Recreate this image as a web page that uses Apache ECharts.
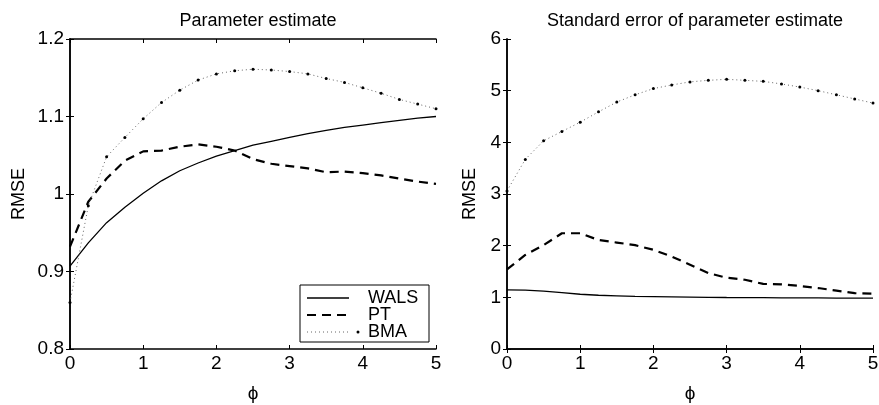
<!DOCTYPE html>
<html>
<head>
<meta charset="utf-8">
<script src="https://cdn.jsdelivr.net/npm/echarts@6/dist/echarts.min.js"></script>
<style>
  html, body { margin: 0; padding: 0; background: #fff; }
  #chart { width: 879px; height: 405px; }
</style>
</head>
<body>
<div id="chart"></div>
<script>
// phi values shared by every curve
const phi = [0, 0.25, 0.5, 0.75, 1, 1.25, 1.5, 1.75, 2, 2.25, 2.5, 2.75, 3, 3.25, 3.5, 3.75, 4, 4.25, 4.5, 4.75, 5]

// left panel: parameter estimate
const walsEst = [0.907, 0.937, 0.963, 0.983, 1.001, 1.017, 1.030, 1.040, 1.049, 1.056, 1.063, 1.068, 1.073, 1.078, 1.082, 1.086, 1.089, 1.092, 1.095, 1.098, 1.100]
const ptEst = [0.932, 0.990, 1.020, 1.043, 1.055, 1.056, 1.061, 1.064, 1.061, 1.056, 1.045, 1.039, 1.036, 1.033, 1.028, 1.029, 1.027, 1.024, 1.020, 1.016, 1.013]
const bmaEst = [0.860, 0.985, 1.048, 1.073, 1.097, 1.118, 1.134, 1.147, 1.155, 1.159, 1.161, 1.160, 1.158, 1.155, 1.149, 1.144, 1.137, 1.130, 1.122, 1.116, 1.110]

// right panel: standard error of parameter estimate
const walsSe = [1.145, 1.14, 1.12, 1.09, 1.06, 1.04, 1.03, 1.02, 1.015, 1.01, 1.005, 1.0, 0.997, 0.995, 0.993, 0.991, 0.99, 0.988, 0.986, 0.985, 0.984]
const ptSe = [1.54, 1.82, 2.01, 2.24, 2.24, 2.11, 2.06, 2.01, 1.92, 1.79, 1.63, 1.47, 1.38, 1.34, 1.26, 1.25, 1.22, 1.18, 1.13, 1.08, 1.07]
const bmaSe = [3.06, 3.67, 4.03, 4.21, 4.39, 4.59, 4.78, 4.92, 5.04, 5.11, 5.17, 5.20, 5.22, 5.20, 5.18, 5.13, 5.07, 5.00, 4.92, 4.84, 4.76]

const titles = ['Parameter estimate', 'Standard error of parameter estimate']
const yRanges = [[0.8, 1.2, 0.1], [0, 6, 1]]
const legendNames = ['WALS', 'PT', 'BMA']

const font = 'Liberation Sans, Arial, sans-serif'
const chart = echarts.init(document.getElementById('chart'))

function pairs(ys) {
  return phi.map((x, i) => [x, ys[i]])
}

const grids = [
  { left: 70, right: 443, top: 39, bottom: 56, outerBoundsMode: 'none' },
  { left: 507, right: 6, top: 39, bottom: 56, outerBoundsMode: 'none' },
]

const xAxes = []
const yAxes = []
grids.forEach((g, i) => {
  // bottom / left axes with labels
  xAxes.push({
    type: 'value', gridIndex: i, min: 0, max: 5, interval: 1,
    name: 'ϕ', nameLocation: 'middle', nameGap: 35,
    nameTextStyle: { fontFamily: font, fontSize: 19, color: '#000' },
    axisLine: { lineStyle: { color: '#000', width: 1.5 } },
    axisTick: { inside: true, length: 4, lineStyle: { color: '#000' } },
    axisLabel: { fontFamily: font, fontSize: 19, color: '#000', margin: 5 },
    splitLine: { show: false },
  })
  // top axis: box line + ticks only
  xAxes.push({
    type: 'value', gridIndex: i, min: 0, max: 5, interval: 1, position: 'top',
    axisLine: { lineStyle: { color: '#000', width: 1.5 } },
    axisTick: { inside: true, length: 4, lineStyle: { color: '#000' } },
    axisLabel: { show: false },
    splitLine: { show: false },
  })
  const r = yRanges[i]
  yAxes.push({
    type: 'value', gridIndex: i, min: r[0], max: r[1], interval: r[2],
    name: 'RMSE', nameLocation: 'middle', nameGap: i === 0 ? 42 : 28,
    nameTextStyle: { fontFamily: font, fontSize: 18, color: '#000' },
    axisLine: { show: true, lineStyle: { color: '#000', width: 1.5 } },
    axisTick: { show: true, inside: true, length: 4, lineStyle: { color: '#000' } },
    axisLabel: { fontFamily: font, fontSize: 19, color: '#000', margin: 6 },
    splitLine: { show: false },
  })
  yAxes.push({
    type: 'value', gridIndex: i, min: r[0], max: r[1], interval: r[2], position: 'right',
    axisLine: { show: true, lineStyle: { color: '#000', width: 1.5 } },
    axisTick: { show: true, inside: true, length: 4, lineStyle: { color: '#000' } },
    axisLabel: { show: false },
    splitLine: { show: false },
  })
})

function solid(name, data, idx) {
  return {
    name, type: 'line', data: pairs(data), xAxisIndex: idx * 2, yAxisIndex: idx * 2,
    showSymbol: false, symbol: 'none', silent: true,
    lineStyle: { color: '#000', width: 1.3 },
  }
}
function dashed(name, data, idx) {
  return {
    name, type: 'line', data: pairs(data), xAxisIndex: idx * 2, yAxisIndex: idx * 2,
    showSymbol: false, symbol: 'none', silent: true,
    lineStyle: { color: '#000', width: 2.2, type: [9, 6] },
  }
}
function dotted(name, data, idx) {
  return {
    name, type: 'line', data: pairs(data), xAxisIndex: idx * 2, yAxisIndex: idx * 2,
    symbol: 'circle', symbolSize: 3, silent: true,
    itemStyle: { color: '#000', borderWidth: 0 },
    lineStyle: { color: '#666', width: 1, type: [1, 3] },
  }
}

// legend box drawn in the lower right of the left panel
const lx = 300, ly = 285
const rowY = [13, 30, 47]
const legendGraphic = [
  { type: 'rect', shape: { x: lx, y: ly, width: 129, height: 57 },
    style: { fill: '#fff', stroke: '#000', lineWidth: 1 }, z: 100 },
  { type: 'line', shape: { x1: lx + 7, y1: ly + rowY[0], x2: lx + 49, y2: ly + rowY[0] },
    style: { stroke: '#000', lineWidth: 1.3 }, z: 101 },
  { type: 'line', shape: { x1: lx + 7, y1: ly + rowY[1], x2: lx + 49, y2: ly + rowY[1] },
    style: { stroke: '#000', lineWidth: 2.2, lineDash: [9, 6] }, z: 101 },
  { type: 'line', shape: { x1: lx + 7, y1: ly + rowY[2], x2: lx + 49, y2: ly + rowY[2] },
    style: { stroke: '#666', lineWidth: 1, lineDash: [1, 3] }, z: 101 },
  { type: 'circle', shape: { cx: lx + 58, cy: ly + rowY[2], r: 1.5 },
    style: { fill: '#000' }, z: 101 },
]
legendNames.forEach((n, k) => {
  legendGraphic.push({
    type: 'text', x: lx + 68, y: ly + rowY[k], z: 101,
    style: { text: n, fontFamily: font, fontSize: 18, fill: '#000', textVerticalAlign: 'middle' },
  })
})

chart.setOption({
  backgroundColor: '#fff',
  animation: false,
  title: titles.map((t, i) => ({
    text: t,
    left: i === 0 ? 253 : 690,
    top: 7,
    textAlign: 'center',
    textStyle: { fontFamily: font, fontSize: 18, fontWeight: 'normal', color: '#000' },
  })),
  grid: grids,
  xAxis: xAxes,
  yAxis: yAxes,
  series: [
    solid('WALS', walsEst, 0),
    dashed('PT', ptEst, 0),
    dotted('BMA', bmaEst, 0),
    solid('WALS', walsSe, 1),
    dashed('PT', ptSe, 1),
    dotted('BMA', bmaSe, 1),
  ],
  graphic: legendGraphic,
})
</script>
</body>
</html>
